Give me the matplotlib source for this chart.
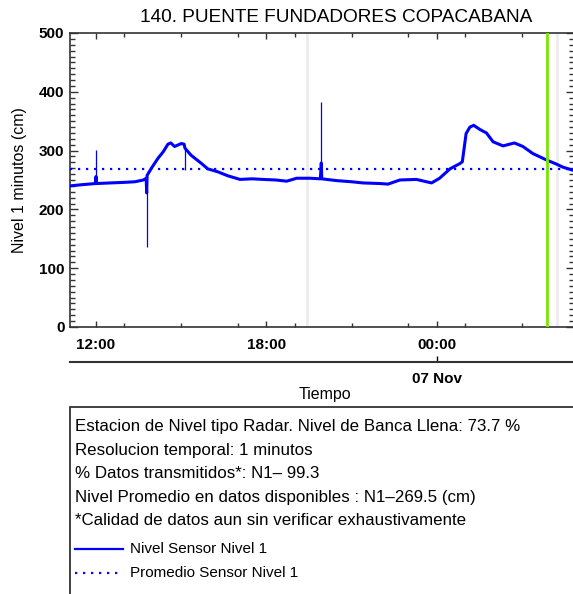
import matplotlib
matplotlib.use('Agg')
import matplotlib.pyplot as plt
import matplotlib.dates as mdates
from matplotlib.ticker import MultipleLocator
from matplotlib.patches import Rectangle
import pandas as pd

plt.rcParams['font.family'] = ['Liberation Sans', 'DejaVu Sans']

# Serie del sensor (cm)
tiempos = [
    '2023-11-06 11:05', '2023-11-06 11:30', '2023-11-06 11:59', '2023-11-06 12:00',
    '2023-11-06 12:01', '2023-11-06 12:30', '2023-11-06 13:00', '2023-11-06 13:22',
    '2023-11-06 13:40', '2023-11-06 13:46', '2023-11-06 13:47', '2023-11-06 13:48',
    '2023-11-06 13:57', '2023-11-06 14:11', '2023-11-06 14:22', '2023-11-06 14:32',
    '2023-11-06 14:38', '2023-11-06 14:46', '2023-11-06 15:00', '2023-11-06 15:06',
    '2023-11-06 15:08', '2023-11-06 15:21', '2023-11-06 15:43', '2023-11-06 15:56',
    '2023-11-06 16:17', '2023-11-06 16:39', '2023-11-06 16:56', '2023-11-06 17:04',
    '2023-11-06 17:30', '2023-11-06 17:53', '2023-11-06 18:20', '2023-11-06 18:43',
    '2023-11-06 19:04', '2023-11-06 19:32', '2023-11-06 19:54', '2023-11-06 19:56',
    '2023-11-06 19:57', '2023-11-06 20:28', '2023-11-06 21:00', '2023-11-06 21:24',
    '2023-11-06 22:00', '2023-11-06 22:17', '2023-11-06 22:42', '2023-11-06 23:17',
    '2023-11-06 23:49', '2023-11-07 00:06', '2023-11-07 00:28', '2023-11-07 00:49',
    '2023-11-07 00:54', '2023-11-07 01:02', '2023-11-07 01:10', '2023-11-07 01:18',
    '2023-11-07 01:31', '2023-11-07 01:45', '2023-11-07 01:59', '2023-11-07 02:20',
    '2023-11-07 02:44', '2023-11-07 03:02', '2023-11-07 03:23', '2023-11-07 03:52',
    '2023-11-07 04:13', '2023-11-07 04:26', '2023-11-07 04:50',
]
nivel = [
    240, 242, 244, 256,
    244, 245, 246, 247,
    250, 253, 228, 258,
    270, 287, 298, 311,
    313, 307, 312, 311,
    304, 292, 278, 269,
    264, 257, 253, 251,
    252, 251, 250, 248,
    253, 253, 252, 279,
    252, 249, 247, 245,
    244, 243, 250, 251,
    245, 253, 269, 278,
    281, 329, 340, 343,
    336, 330, 315, 308,
    313, 307, 295, 284,
    277, 272, 266,
]

# Picos instantaneos
pico_t = ['2023-11-06 12:00', '2023-11-06 13:47', '2023-11-06 15:08', '2023-11-06 19:56']
pico_min = [244, 136, 267, 252]
pico_max = [301, 232, 304, 383]

promedio = 269.5
t_ini, t_fin = '2023-11-06 11:05', '2023-11-07 04:50'
t_actual = '2023-11-07 03:52'
lineas_grises = ['2023-11-06 19:25', '2023-11-07 04:15']

textos = [
    'Estacion de Nivel tipo Radar. Nivel de Banca Llena: 73.7 %',
    'Resolucion temporal: 1 minutos',
    '% Datos transmitidos*: N1\u2013 99.3',
    'Nivel Promedio en datos disponibles : N1\u2013269.5 (cm)',
    '*Calidad de datos aun sin verificar exhaustivamente',
]
leyenda = ['Nivel Sensor Nivel 1', 'Promedio Sensor Nivel 1']

t = pd.to_datetime(tiempos)
x0, x1 = pd.Timestamp(t_ini), pd.Timestamp(t_fin)

fig = plt.figure(figsize=(5.73, 5.94), dpi=100)
ax = fig.add_axes([70 / 573, 1 - 327 / 594, 504 / 573, 294 / 594])

for g in lineas_grises:
    ax.axvline(pd.Timestamp(g), color='#ebebeb', lw=1.8, zorder=1)
ax.axvline(pd.Timestamp(t_actual), color='#77e600', lw=2, zorder=4)

ax.plot(t, nivel, color='blue', lw=2.2, zorder=3)
ax.vlines(pd.to_datetime(pico_t), pico_min, pico_max, color='blue', lw=0.9, zorder=3)
ax.plot([x0, x1], [promedio, promedio], color='blue', lw=1.6,
        linestyle=(0, (1, 2.6)), zorder=3)

ax.set_xlim(x0, x1)
ax.set_ylim(0, 500)
ax.yaxis.set_major_locator(MultipleLocator(100))
ax.yaxis.set_minor_locator(MultipleLocator(10))
ax.xaxis.set_major_locator(mdates.HourLocator(byhour=[0, 6, 12, 18]))
ax.xaxis.set_minor_locator(mdates.HourLocator(interval=2))
ax.xaxis.set_major_formatter(mdates.DateFormatter('%H:%M'))

ax.tick_params(which='both', direction='in', top=True, right=True, color='#333333')
ax.tick_params(axis='y', which='major', length=6, width=1, pad=4)
ax.tick_params(axis='y', which='minor', length=3.5, width=1)
ax.tick_params(axis='x', which='major', length=4.5, width=1, pad=8)
ax.tick_params(axis='x', which='minor', length=3, width=1)
for lab in ax.get_xticklabels() + ax.get_yticklabels():
    lab.set_fontsize(11)
    lab.set_fontweight('bold')
for s in ax.spines.values():
    s.set_linewidth(1.2)
    s.set_color('#333333')

sec = ax.secondary_xaxis(-35 / 294)
sec.set_xticks([pd.Timestamp('2023-11-07 00:00')])
sec.set_xticklabels(['07 Nov'])
sec.tick_params(direction='in', length=4, width=1, pad=7, labelsize=11)
sec.spines['bottom'].set_linewidth(1.5)
sec.spines['bottom'].set_color('#333333')
for lab in sec.get_xticklabels():
    lab.set_fontweight('bold')

fig.text(336 / 573, 1 - 18 / 594, '140. PUENTE FUNDADORES COPACABANA',
         fontsize=13.7, ha='center', va='center')
fig.text(20 / 573, 1 - 180 / 594, 'Nivel 1 minutos (cm)', fontsize=11.5,
         rotation=90, ha='center', va='center')
fig.text(325 / 573, 1 - 395 / 594, 'Tiempo', fontsize=11.5, ha='center', va='center')

# Cuadro de informacion
fig.patches.append(Rectangle((70 / 573, -0.02), 1.0, (594 - 407) / 594 + 0.02,
                             transform=fig.transFigure, fill=False,
                             edgecolor='#333333', lw=1.3))
for i, txt in enumerate(textos):
    fig.text(75 / 573, 1 - (427 + 23.4 * i) / 594, txt, fontsize=12.2, va='center')

fig.add_artist(plt.Line2D([75 / 573, 123 / 573], [1 - 549 / 594] * 2,
                          transform=fig.transFigure, color='blue', lw=1.6))
fig.add_artist(plt.Line2D([75 / 573, 123 / 573], [1 - 573 / 594] * 2,
                          transform=fig.transFigure, color='blue', lw=1.6,
                          linestyle=(0, (1, 2.6))))
fig.text(130 / 573, 1 - 549 / 594, leyenda[0], fontsize=11, va='center')
fig.text(130 / 573, 1 - 573 / 594, leyenda[1], fontsize=11, va='center')

fig.savefig('out.png', dpi=100)
